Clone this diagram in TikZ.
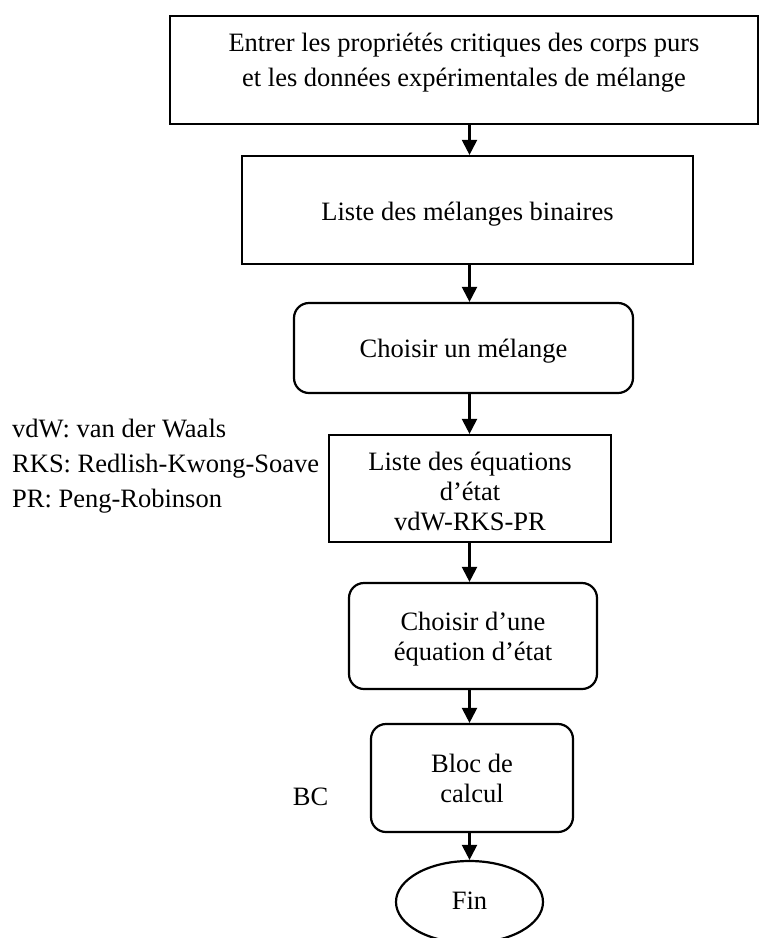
\documentclass[tikz,border=0pt]{standalone}
\usepackage{fontspec}
\setmainfont{Liberation Serif}
\usetikzlibrary{arrows.meta,shapes.geometric}
% move a block of text up (or down) without changing its box size
\newcommand{\txtlift}[2]{\raisebox{#1}[\height][\depth]{#2}}
\newcommand{\rows}[1]{\begin{tabular}{@{}c@{}}#1\end{tabular}}
\begin{document}
\begin{tikzpicture}[x=1pt,y=-1pt,
  every node/.style={font=\fontsize{26.5}{30}\selectfont, inner sep=0pt},
  plainbox/.style={draw, line width=2.2pt},
  roundbox/.style={plainbox, rounded corners=15pt},
  endbox/.style={draw, line width=2.2pt, ellipse},
  flow/.style={line width=2.2pt, -{Triangle[length=15pt,width=15pt]}},
  note/.style={anchor=base west},
]
\clip (0,0) rectangle (760,938);

% main column of the flowchart
\coordinate (axis) at (469.5,0);

\node[plainbox, minimum width=588, minimum height=108] (input) at (464,70)
  {\fontsize{26.5}{35}\selectfont\txtlift{8.5pt}{\rows{Entrer les propriétés critiques des corps purs\\
   et les données expérimentales de mélange}}};

\node[plainbox, minimum width=451, minimum height=108] (binaires) at (467.5,210)
  {\txtlift{-4pt}{\rows{Liste des mélanges binaires}}};

\node[roundbox, minimum width=339, minimum height=90] (choixmel) at (463.5,348)
  {\txtlift{-3pt}{\rows{Choisir un mélange}}};

\node[plainbox, minimum width=282, minimum height=107] (equations) at (470,488.5)
  {\txtlift{-5.5pt}{\rows{Liste des équations\\ d’état\\ vdW-RKS-PR}}};

\node[roundbox, minimum width=248, minimum height=106] (choixeq) at (473,636)
  {\txtlift{-3pt}{\rows{Choisir d’une\\ équation d’état}}};

\node[roundbox, minimum width=202, minimum height=108] (calcul) at (472,778)
  {\txtlift{-3.5pt}{\rows{Bloc de\\ calcul}}};

\node[endbox, minimum width=147, minimum height=82] (fin) at (469.5,902) {\txtlift{1.5pt}{Fin}};

% side notes
\node[note] (nvdw) at (12,437) {vdW: van der Waals};
\node[note] (nrks) at (12,472) {RKS: Redlish-Kwong-Soave};
\node[note] (npr)  at (12,507) {PR: Peng-Robinson};
\node[anchor=base] (bc) at (310.5,805.5) {BC};

% connectors
\draw[flow] (input.south -| axis) -- (binaires.north -| axis);
\draw[flow] (binaires.south -| axis) -- (choixmel.north -| axis);
\draw[flow] (choixmel.south -| axis) -- (equations.north -| axis);
\draw[flow] (equations.south -| axis) -- (choixeq.north -| axis);
\draw[flow] (choixeq.south -| axis) -- (calcul.north -| axis);
\draw[flow] (calcul.south -| axis) -- (fin.north);
\end{tikzpicture}
\end{document}
